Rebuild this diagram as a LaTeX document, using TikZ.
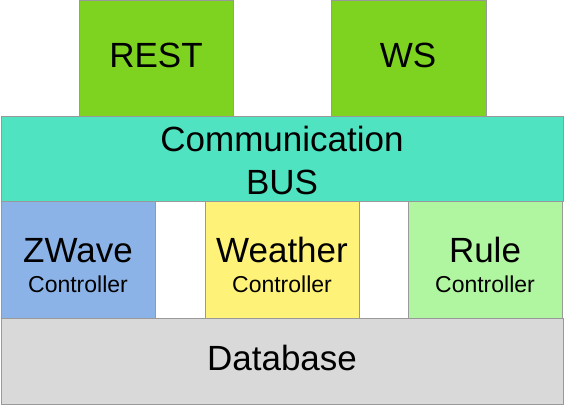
\documentclass[tikz,border=0pt]{standalone}
\usepackage{fontspec}
\setmainfont{Liberation Sans}
\begin{document}
\begin{tikzpicture}[x=1pt,y=-1pt,
  blk/.style={draw=black!40,line width=1pt,inner sep=0pt},
  big/.style={font=\fontsize{35}{43}\selectfont},
  small/.style={font=\fontsize{23}{27}\selectfont}]
\definecolor{cgreen}{HTML}{7ED321}
\definecolor{cbus}{HTML}{50E3C2}
\definecolor{czw}{HTML}{8CB3E8}
\definecolor{cwea}{HTML}{FFF278}
\definecolor{crule}{HTML}{B0F5A0}
\definecolor{cdb}{HTML}{D9D9D9}
\useasboundingbox (0,0) rectangle (565,406);
\draw[blk,fill=cgreen] (79,1) rectangle (233,117);
\draw[blk,fill=cgreen] (331,1) rectangle (486,117);
\draw[blk,fill=cbus] (1,117) rectangle (563,202);
\draw[blk,fill=czw] (1,202) rectangle (155,318);
\draw[blk,fill=cwea] (205,202) rectangle (359,318);
\draw[blk,fill=crule] (408,202) rectangle (562,318);
\draw[blk,fill=cdb] (1,318) rectangle (563,404);
\node[big,anchor=base] (rest) at (156,68) {REST};
\node[big,anchor=base] (ws) at (408,68) {WS};
\node[big,anchor=base] (comm) at (282,152) {Communication};
\node[big,anchor=base] (bus) at (282,195) {BUS};
\node[big,anchor=base] (zw) at (78,262) {ZWave};
\node[small,anchor=base] (zwc) at (78,292) {Controller};
\node[big,anchor=base] (we) at (282,262) {Weather};
\node[small,anchor=base] (wec) at (282,292) {Controller};
\node[big,anchor=base] (ru) at (485,262) {Rule};
\node[small,anchor=base] (ruc) at (485,292) {Controller};
\node[big,anchor=base] (db) at (282,370) {Database};
\end{tikzpicture}
\end{document}
